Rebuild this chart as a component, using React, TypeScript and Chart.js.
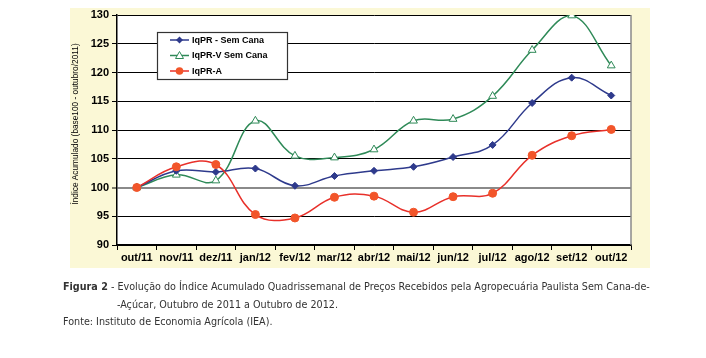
import React, { useEffect, useRef } from "react";
import { Chart, registerables } from "chart.js";
Chart.register(...registerables);

const categories = ["out/11", "nov/11", "dez/11", "jan/12", "fev/12", "mar/12", "abr/12", "mai/12", "jun/12", "jul/12", "ago/12", "set/12", "out/12"];
const iqprSemCana = [100, 102.9, 102.7, 103.3, 100.3, 102.0, 102.9, 103.6, 105.3, 107.4, 114.7, 119.1, 116.0];
const iqprVSemCana = [100, 102.2, 101.2, 111.6, 105.5, 105.2, 106.6, 111.6, 111.9, 115.9, 123.9, 129.9, 121.2];
const iqprA = [100, 103.6, 104.0, 95.3, 94.7, 98.3, 98.5, 95.7, 98.4, 99.0, 105.6, 109.0, 110.1];
const seriesNames = ["IqPR - Sem Cana", "IqPR-V Sem Cana", "IqPR-A"];
const yMin = 90;
const yMax = 130;
const yStep = 5;
const yTitle = "Índice Acumulado (base100 - outubro/2011)";

const BLUE = "#2E3A8C";
const GREEN = "#2F8A58";
const RED = "#E8302A";
const RED_FILL = "#F2552A";

const decorPlugin = {
  id: "decor",
  beforeDraw(chart: any) {
    const { ctx, chartArea } = chart;
    ctx.save();
    ctx.fillStyle = "#FBF8D6";
    ctx.fillRect(70, 8, 580, 260);
    ctx.fillStyle = "#FFFFFF";
    ctx.fillRect(chartArea.left, chartArea.top, chartArea.right - chartArea.left, chartArea.bottom - chartArea.top);
    ctx.restore();
  },
  afterDatasetsDraw(chart: any) {
    const { ctx, chartArea } = chart;
    ctx.save();
    ctx.strokeStyle = "#8A8A8A";
    ctx.lineWidth = 1.5;
    ctx.beginPath();
    ctx.moveTo(chartArea.right, chartArea.top);
    ctx.lineTo(chartArea.right, chartArea.bottom);
    ctx.stroke();

    ctx.fillStyle = "#000";
    ctx.font = "8.3px 'Liberation Sans', Arial, sans-serif";
    ctx.textAlign = "center";
    ctx.textBaseline = "middle";
    ctx.translate(76, 124);
    ctx.rotate(-Math.PI / 2);
    ctx.fillText(yTitle, 0, 0);
    ctx.restore();

    ctx.save();
    const lx = 157, ly = 32, lw = 130, lh = 47;
    ctx.fillStyle = "#FFFFFF";
    ctx.fillRect(lx, ly, lw, lh);
    ctx.strokeStyle = "#333";
    ctx.lineWidth = 1.2;
    ctx.strokeRect(lx + 0.5, ly + 0.5, lw, lh);
    const rows = [40, 55.5, 71];
    const colors = [BLUE, GREEN, RED];
    rows.forEach((ry, i) => {
      ctx.strokeStyle = colors[i];
      ctx.lineWidth = 1.5;
      ctx.beginPath();
      ctx.moveTo(170, ry);
      ctx.lineTo(189, ry);
      ctx.stroke();
      const cx = 179.5;
      if (i === 0) {
        ctx.fillStyle = BLUE;
        ctx.beginPath();
        ctx.moveTo(cx, ry - 3.5);
        ctx.lineTo(cx + 3.5, ry);
        ctx.lineTo(cx, ry + 3.5);
        ctx.lineTo(cx - 3.5, ry);
        ctx.closePath();
        ctx.fill();
      } else if (i === 1) {
        ctx.fillStyle = "#fff";
        ctx.strokeStyle = GREEN;
        ctx.lineWidth = 1;
        ctx.beginPath();
        ctx.moveTo(cx, ry - 4);
        ctx.lineTo(cx + 4, ry + 3);
        ctx.lineTo(cx - 4, ry + 3);
        ctx.closePath();
        ctx.fill();
        ctx.stroke();
      } else {
        ctx.fillStyle = RED_FILL;
        ctx.beginPath();
        ctx.arc(cx, ry, 3.8, 0, Math.PI * 2);
        ctx.fill();
      }
      ctx.fillStyle = "#000";
      ctx.font = "bold 9px 'Liberation Sans', Arial, sans-serif";
      ctx.textAlign = "left";
      ctx.textBaseline = "middle";
      ctx.fillText(seriesNames[i], 192, ry + 0.5);
    });
    ctx.restore();
  },
};

export default function App() {
  const canvasRef = useRef<HTMLCanvasElement | null>(null);

  useEffect(() => {
    if (!canvasRef.current) return;
    const chart = new Chart(canvasRef.current, {
      type: "line",
      data: {
        labels: categories,
        datasets: [
          {
            label: seriesNames[0],
            data: iqprSemCana,
            borderColor: BLUE,
            backgroundColor: BLUE,
            borderWidth: 1.5,
            pointStyle: "rectRot",
            pointRadius: 3.5,
            pointBorderWidth: 1,
            tension: 0.4,
            order: 1,
          },
          {
            label: seriesNames[1],
            data: iqprVSemCana,
            borderColor: GREEN,
            backgroundColor: "#FFFFFF",
            borderWidth: 1.5,
            pointStyle: "triangle",
            pointRadius: 4.5,
            pointBorderWidth: 1,
            tension: 0.4,
            order: 2,
          },
          {
            label: seriesNames[2],
            data: iqprA,
            borderColor: RED,
            backgroundColor: RED_FILL,
            pointBorderColor: RED_FILL,
            borderWidth: 1.5,
            pointStyle: "circle",
            pointRadius: 4,
            pointBorderWidth: 1,
            tension: 0.4,
            order: 0,
          },
        ],
      },
      options: {
        responsive: false,
        animation: false,
        layout: { padding: { left: 77, right: 75, top: 15, bottom: 83 } },
        plugins: { legend: { display: false }, tooltip: { enabled: false } },
        scales: {
          x: {
            offset: true,
            grid: { drawOnChartArea: false, drawTicks: true, tickLength: 5, color: "#000", offset: true },
            border: { color: "#000", width: 1.5 },
            ticks: {
              color: "#000",
              padding: 1,
              maxRotation: 0,
              autoSkip: false,
              font: { family: "'Liberation Sans', Arial, sans-serif", size: 11, weight: "bold" },
            },
            afterFit: (s: any) => { s.height = 30; },
          },
          y: {
            min: yMin,
            max: yMax,
            ticks: {
              stepSize: yStep,
              color: "#000",
              padding: 3,
              font: { family: "'Liberation Sans', Arial, sans-serif", size: 11, weight: "bold" },
            },
            grid: {
              tickLength: 5,
              color: (c: any) => (c.tick && c.tick.value === 100 ? "#8A8A8A" : "#000"),
              lineWidth: (c: any) => (c.tick && c.tick.value === 100 ? 2 : 1),
              tickColor: "#000",
              tickWidth: 1,
            },
            border: { color: "#000", width: 1.5 },
            afterFit: (s: any) => { s.width = 40; },
          },
        },
      },
      plugins: [decorPlugin],
    } as any);
    return () => chart.destroy();
  }, []);

  const captionStyle: React.CSSProperties = {
    position: "absolute",
    fontFamily: "'DejaVu Sans Condensed', 'DejaVu Sans', sans-serif",
    fontSize: 10.7,
    color: "#333",
    whiteSpace: "nowrap",
    lineHeight: "14px",
  };

  return (
    <div style={{ position: "absolute", left: 0, top: 0, width: 706, height: 358, background: "#fff", overflow: "hidden" }}>
      <canvas ref={canvasRef} width={706} height={358} style={{ position: "absolute", left: 0, top: 0 }} />
      <div style={{ ...captionStyle, left: 63, top: 280 }}>
        <b>Figura 2</b> - Evolução do Índice Acumulado Quadrissemanal de Preços Recebidos pela Agropecuária Paulista Sem Cana-de-
      </div>
      <div style={{ ...captionStyle, left: 117, top: 298 }}>-Açúcar, Outubro de 2011 a Outubro de 2012.</div>
      <div style={{ ...captionStyle, left: 63, top: 315 }}>Fonte: Instituto de Economia Agrícola (IEA).</div>
    </div>
  );
}
